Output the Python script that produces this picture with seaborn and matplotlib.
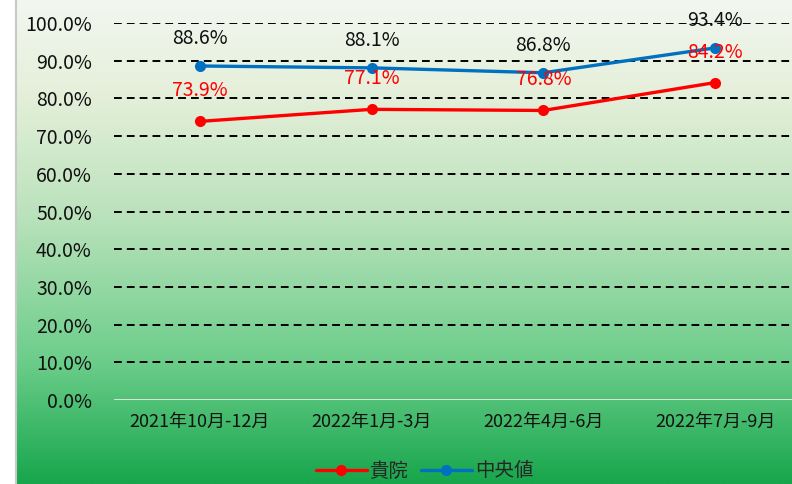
import matplotlib.pyplot as plt
import numpy as np
import pandas as pd
import seaborn as sns
from matplotlib.colors import LinearSegmentedColormap
from matplotlib.lines import Line2D

# === data
periods = ["2021年10月-12月", "2022年1月-3月", "2022年4月-6月", "2022年7月-9月"]
hospital = [73.9, 77.1, 76.8, 84.2]   # 貴院
median = [88.6, 88.1, 86.8, 93.4]     # 中央値
series_names = ["貴院", "中央値"]
yticks = [0, 10, 20, 30, 40, 50, 60, 70, 80, 90, 100]

df = pd.DataFrame({
    "period": periods * 2,
    "value": hospital + median,
    "series": [series_names[0]] * 4 + [series_names[1]] * 4,
})
colors = {"貴院": "#ff0000", "中央値": "#0070c0"}

sns.set_theme(style="white")
plt.rcParams["font.family"] = ["Noto Sans CJK JP", "DejaVu Sans"]

fig = plt.figure(figsize=(7.92, 4.84), dpi=100)

# background: white strip at left, green gradient panel
bg = fig.add_axes([16 / 792, 0, 1 - 16 / 792, 1], zorder=0)
cmap = LinearSegmentedColormap.from_list(
    "bg", [(0, "#f3f7f0"), (0.2, "#e4efd9"), (0.45, "#b9e2bb"), (0.75, "#6bcd8a"), (1, "#17a64c")])
bg.imshow(np.linspace(0, 1, 256).reshape(-1, 1), aspect="auto", cmap=cmap, extent=[0, 1, 0, 1])
bg.set_axis_off()
fig.add_artist(Line2D([16 / 792, 16 / 792], [0, 1], color="#c8c8c8", lw=1.5))

ax = fig.add_axes([114 / 792, 84 / 484, 687 / 792, 377 / 484], zorder=1)
ax.patch.set_alpha(0)

for v in yticks[1:]:
    ax.axhline(v, color="black", lw=1.4, ls=(0, (4, 2.6)), zorder=1)
ax.axhline(0, color="#e8e8e8", lw=2, zorder=1)

sns.lineplot(data=df, x="period", y="value", hue="series", palette=colors,
             marker="o", markersize=8, markeredgewidth=0, linewidth=2.4,
             sort=False, legend=False, ax=ax, zorder=3)

for i, v in enumerate(hospital):
    ax.annotate(f"{v:.1f}%", (i, v), xytext=(0, 20), textcoords="offset pixels",
                ha="center", va="bottom", color="#ff0000", fontsize=14, annotation_clip=False)
for i, v in enumerate(median):
    ax.annotate(f"{v:.1f}%", (i, v), xytext=(0, 17), textcoords="offset pixels",
                ha="center", va="bottom", color="#111111", fontsize=14, annotation_clip=False)

ax.set_xlim(-0.5, 3.5)
ax.set_ylim(0, 100)
ax.set_yticks(yticks)
ax.set_yticklabels([f"{v:.1f}%" for v in yticks], fontsize=14, color="#111111")
ax.tick_params(axis="x", labelsize=13, colors="#111111", pad=9, length=0)
ax.tick_params(axis="y", pad=16, length=0)
ax.set_xlabel("")
ax.set_ylabel("")
sns.despine(ax=ax, left=True, bottom=True)

handles = [Line2D([], [], color=colors[n], marker="o", markersize=8, lw=2.4, markeredgewidth=0)
           for n in series_names]
fig.legend(handles, series_names, loc="center", bbox_to_anchor=(425 / 792, 13 / 484),
           ncol=2, frameon=False, fontsize=14, handlelength=2.6, columnspacing=0.6,
           handletextpad=0.2)

fig.savefig("out.png", dpi=100)
